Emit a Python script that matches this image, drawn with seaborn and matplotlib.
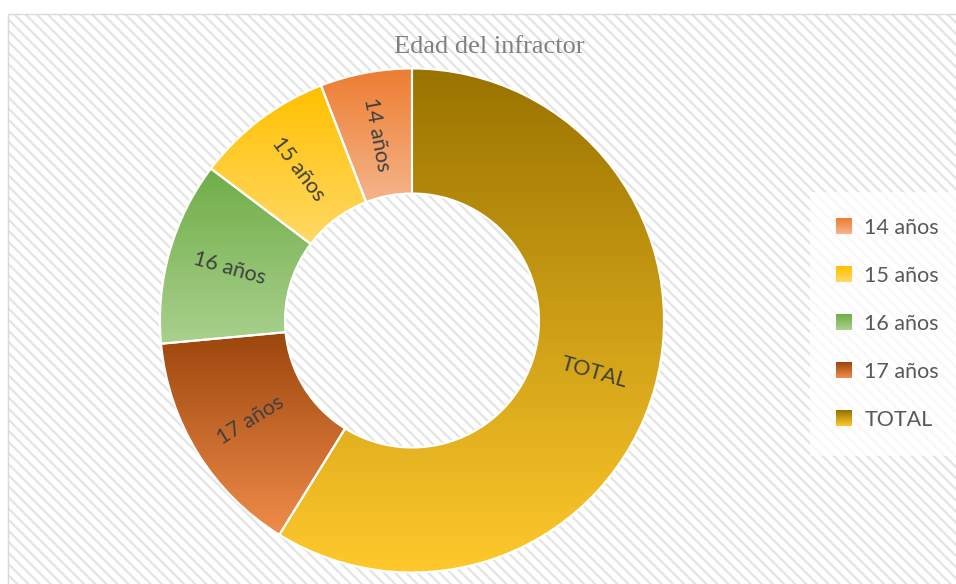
import numpy as np
import matplotlib
matplotlib.use('Agg')
import matplotlib.pyplot as plt
import seaborn as sns
from matplotlib.patches import Rectangle
from matplotlib.legend_handler import HandlerBase

# ---- data ----
categories = ['14 años', '15 años', '16 años', '17 años', 'TOTAL']
values = [2, 3, 4, 5, 20]
grad_top = ['#ED7D31', '#FFC000', '#70AD47', '#9C460D', '#997300']
grad_bottom = ['#F5B48A', '#FFD966', '#A9D18E', '#F08C4A', '#FFC92C']
title = 'Edad del infractor'

sns.set_theme(style='white')
plt.rcParams['font.family'] = ['Lato', 'DejaVu Sans']
plt.rcParams['hatch.linewidth'] = 1.6

W, H = 956, 584
fig = plt.figure(figsize=(W / 100, H / 100), dpi=100, facecolor='white')
ax = fig.add_axes([0, 0, 1, 1])

# hatched chart-area background
bg = Rectangle((8.5, -20), 1000, 20 + H - 13.5, facecolor='white', edgecolor='#e4e4e4',
               linewidth=0, hatch='\\\\\\', zorder=0)
ax.add_patch(bg)
border = Rectangle((8.5, -20), 1000, 20 + H - 13.5, facecolor='none', edgecolor='#d9d9d9',
                   linewidth=1.0, zorder=0.5)
ax.add_patch(border)

cx, cy, R, w = 412, H - 320.5, 252, 125
wedges, _ = ax.pie(values, startangle=90, counterclock=True, center=(cx, cy), radius=R,
                   wedgeprops=dict(width=w, facecolor='none', edgecolor='white', linewidth=1.5, zorder=3),
                   frame=True)

for wdg, top, bot in zip(wedges, grad_top, grad_bottom):
    ext = wdg.get_path().get_extents()
    cols = np.array(sns.blend_palette([top, bot], n_colors=256))
    img = cols[:, None, :]
    im = ax.imshow(img, extent=[ext.x0, ext.x1, ext.y0, ext.y1], origin='upper',
                   aspect='auto', interpolation='bilinear', zorder=2)
    im.set_clip_path(wdg)

rr = R - w / 2
for wdg, lab in zip(wedges, categories):
    mid = np.deg2rad((wdg.theta1 + wdg.theta2) / 2)
    x = cx + rr * np.cos(mid)
    y = cy + rr * np.sin(mid)
    rot = np.rad2deg(mid) % 180
    if rot > 90:
        rot -= 180
    ax.text(x, y, lab, rotation=rot, rotation_mode='anchor', ha='center', va='center',
            fontsize=15.5, color='#404040', zorder=4)


class GradHandler(HandlerBase):
    def __init__(self, top, bot):
        super().__init__()
        self.top, self.bot = top, bot

    def create_artists(self, legend, orig_handle, xdescent, ydescent, width, height, fontsize, trans):
        n = 32
        cols = sns.blend_palette([self.top, self.bot], n_colors=n)
        side = height
        x0, y0 = -xdescent, -ydescent
        arts = []
        for i in range(n):
            r = Rectangle((x0, y0 + side * (n - 1 - i) / n), side, side / n * 1.05,
                          facecolor=cols[i], edgecolor='none', transform=trans)
            arts.append(r)
        return arts


handles = [Rectangle((0, 0), 1, 1) for _ in categories]
hmap = {h: GradHandler(t, b) for h, t, b in zip(handles, grad_top, grad_bottom)}
leg = ax.legend(handles, categories, handler_map=hmap, loc='upper left',
                bbox_to_anchor=(810 / W, 1 - 192 / H), bbox_transform=fig.transFigure,
                fontsize=15.5, handlelength=0.78, handleheight=0.78, handletextpad=0.55,
                labelspacing=1.3, borderpad=1.2, borderaxespad=0, frameon=True,
                facecolor='white', framealpha=0.75, edgecolor='none', fancybox=False,
                labelcolor='#595959')
leg.set_zorder(5)

fig.text(489 / W, 1 - 53 / H, title, ha='center', va='baseline', fontsize=19,
         family=['Liberation Serif', 'DejaVu Serif'], color='#808080')

ax.set_xlim(0, W)
ax.set_ylim(0, H)
ax.set_aspect('auto')
ax.axis('off')

fig.savefig('out.png', dpi=100, facecolor='white')
